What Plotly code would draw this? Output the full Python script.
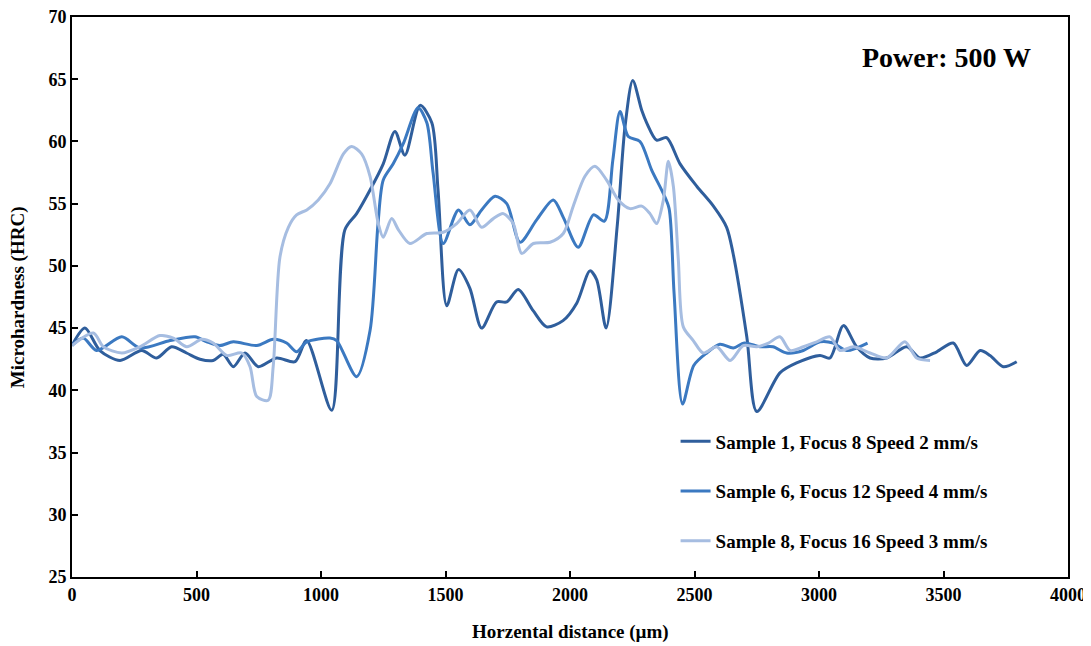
import plotly.graph_objects as go

# Sample 1, Focus 8 Speed 2 mm/s
s1_x = [0, 52, 112, 193, 280, 340, 400, 460, 514, 567, 607, 648, 695, 748, 822, 896, 942, 1043,
        1096, 1143, 1197, 1250, 1297, 1337, 1398, 1445, 1470, 1505, 1552, 1598, 1645, 1705, 1746,
        1792, 1852, 1906, 1972, 2027, 2080, 2107, 2145, 2190, 2221, 2252, 2288, 2308, 2348, 2388,
        2442, 2509, 2576, 2629, 2655, 2710, 2750, 2843, 2910, 3004, 3044, 3098, 3151, 3205, 3272,
        3352, 3406, 3473, 3539, 3593, 3647, 3687, 3740, 3794]
s1_y = [43.6, 45.0, 43.2, 42.4, 43.2, 42.6, 43.5, 43.0, 42.5, 42.4, 42.9, 41.9, 43.0, 41.9, 42.6, 42.3, 44.0, 38.4,
        52.9, 54.2, 56.1, 58.2, 60.8, 58.9, 62.9, 61.5, 56.1, 46.8, 49.7, 48.2, 45.0, 47.1, 47.1,
        48.1, 46.4, 45.1, 45.6, 47.0, 49.6, 48.9, 45.0, 53.3, 61.2, 64.9, 62.5, 61.5, 60.1, 60.3,
        58.2, 56.4, 54.8, 53.1, 51.0, 44.3, 38.3, 41.4, 42.2, 42.8, 42.6, 45.2, 43.5, 42.6, 42.6,
        43.5, 42.6, 43.1, 43.8, 42.0, 43.2, 42.8, 41.9, 42.3]

# Sample 6, Focus 12 Speed 4 mm/s
s6_x = [0, 45, 99, 200, 273, 394, 494, 541, 594, 648, 742, 808, 862, 902, 943, 1036, 1063, 1143,
        1197, 1229, 1250, 1290, 1330, 1390, 1425, 1450, 1491, 1552, 1598, 1645, 1699, 1746, 1799,
        1866, 1933, 1973, 2033, 2094, 2138, 2172, 2201, 2234, 2281, 2328, 2375, 2398, 2418, 2452,
        2497, 2549, 2602, 2656, 2700, 2763, 2815, 2870, 2937, 3004, 3057, 3111, 3195]
s6_y = [43.6, 44.2, 43.2, 44.3, 43.4, 44.0, 44.3, 43.9, 43.6, 43.9, 43.6, 44.1, 43.8, 43.1, 43.9, 44.2, 44.0, 41.1,
        44.8, 53.4, 56.9, 58.2, 59.8, 62.7, 61.5, 57.5, 51.8, 54.5, 53.3, 54.5, 55.6, 55.0, 51.9,
        53.7, 55.3, 53.9, 51.5, 54.1, 53.6, 58.5, 62.4, 60.4, 60.0, 57.7, 55.8, 54.6, 47.8, 38.9,
        42.0, 43.0, 43.7, 43.4, 43.8, 43.5, 43.5, 43.0, 43.2, 43.9, 43.8, 43.2, 43.8]

# Sample 8, Focus 16 Speed 3 mm/s
s8_x = [0, 86, 126, 200, 273, 353, 407, 461, 521, 567, 621, 682, 715, 742, 788, 808, 835, 869,
        902, 943, 989, 1036, 1090, 1123, 1163, 1197, 1230, 1250, 1284, 1311, 1357, 1425, 1491,
        1545, 1598, 1645, 1692, 1732, 1772, 1806, 1853, 1920, 1973, 2013, 2060, 2100, 2147, 2194,
        2241, 2288, 2321, 2348, 2375, 2395, 2415, 2435, 2455, 2495, 2535, 2589, 2643, 2696, 2750,
        2797, 2843, 2884, 2937, 2991, 3044, 3084, 3138, 3205, 3272, 3345, 3392, 3446]
s8_y = [43.6, 44.6, 43.5, 43.0, 43.5, 44.4, 44.2, 43.5, 44.1, 43.8, 42.8, 43.0, 41.9, 39.5, 39.2, 41.9, 50.7, 53.1,
        54.1, 54.5, 55.3, 56.6, 59.0, 59.6, 59.0, 57.2, 53.4, 52.3, 53.8, 52.9, 51.8, 52.6, 52.7,
        53.4, 54.5, 53.1, 53.8, 54.2, 53.4, 51.0, 51.8, 51.9, 52.6, 54.8, 57.2, 58.0, 56.9, 55.3,
        54.6, 54.8, 54.2, 53.4, 55.3, 58.4, 56.4, 50.5, 45.1, 44.0, 43.0, 43.5, 42.4, 43.6, 43.5,
        43.8, 44.3, 43.2, 43.5, 43.9, 44.3, 43.2, 43.5, 43.0, 42.6, 43.9, 42.6, 42.4]

names = ["Sample 1, Focus 8 Speed 2 mm/s",
         "Sample 6, Focus 12 Speed 4 mm/s",
         "Sample 8, Focus 16 Speed 3 mm/s"]
colors = ["#2F5E9C", "#3B79C1", "#A6BDE1"]

x_ticks = [0, 500, 1000, 1500, 2000, 2500, 3000, 3500, 4000]
y_ticks = [25, 30, 35, 40, 45, 50, 55, 60, 65, 70]

FONT = "Liberation Serif"

fig = go.Figure()
for i, (xs, ys) in enumerate([(s1_x, s1_y), (s6_x, s6_y), (s8_x, s8_y)]):
    fig.add_trace(go.Scatter(
        x=xs, y=ys, mode="lines", name=f"<b>{names[i]}</b>",
        legendgroup=f"g{i}",
        line=dict(color=colors[i], width=3, shape="spline", smoothing=0.8),
    ))

# page body has an 8px margin, so the figure is sized/offset to compensate
fig.update_layout(
    width=1083, height=638,
    margin=dict(l=64, r=23, t=9, b=69),
    plot_bgcolor="white", paper_bgcolor="white",
    font=dict(family=FONT, size=18, color="black"),
    showlegend=True,
    legend=dict(x=0.606, y=0.276, xanchor="left", yanchor="top",
                bgcolor="rgba(0,0,0,0)", tracegroupgap=22,
                font=dict(family=FONT, size=19, color="black")),
    xaxis=dict(range=[0, 4000], tickvals=x_ticks, ticktext=[f"<b>{v}</b>" for v in x_ticks],
               showgrid=False, zeroline=False, showline=True, linecolor="black", linewidth=2,
               mirror=True, ticks="inside", ticklen=6, tickwidth=2, tickcolor="black",
               automargin=False, ticklabeloverflow="allow",
               tickfont=dict(family=FONT, size=18)),
    yaxis=dict(range=[25, 70], tickvals=y_ticks, ticktext=[f"<b>{v}</b>" for v in y_ticks],
               showgrid=False, zeroline=False, showline=True, linecolor="black", linewidth=2,
               mirror=True, ticks="inside", ticklen=6, tickwidth=2, tickcolor="black",
               automargin=False, ticklabeloverflow="allow",
               tickfont=dict(family=FONT, size=18)),
    annotations=[
        dict(text="<b>Power: 500 W</b>", xref="paper", yref="paper", x=0.878, y=0.927,
             xanchor="center", yanchor="middle", showarrow=False,
             font=dict(family=FONT, size=28, color="black")),
        dict(text="<b>Horzental distance (µm)</b>", xref="paper", yref="paper", x=0.5, y=-0.098,
             xanchor="center", yanchor="middle", showarrow=False,
             font=dict(family=FONT, size=19, color="black")),
        dict(text="<b>Microhardness (HRC)</b>", xref="paper", yref="paper", x=-0.054, y=0.5,
             xanchor="center", yanchor="middle", showarrow=False, textangle=-90,
             font=dict(family=FONT, size=19, color="black")),
    ],
)

fig.write_html("out.html")
